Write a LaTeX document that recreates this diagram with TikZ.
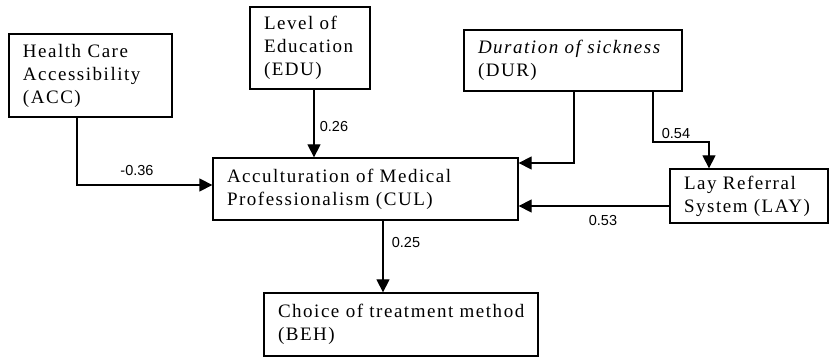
\documentclass[tikz,border=0pt]{standalone}
\usepackage{fontspec}
\setmainfont{Liberation Serif}[LetterSpace=8]
\newfontfamily\labelfont{Liberation Sans}
\usetikzlibrary{arrows.meta}
\begin{document}
\begin{tikzpicture}[x=1pt,y=-1pt,
  varbox/.style={draw, line width=1.3pt, rectangle, inner xsep=14pt, inner ysep=0pt,
    align=left, font=\fontsize{19}{23}\selectfont},
  path/.style={line width=1.3pt, -{Triangle[length=13pt,width=13pt]}},
  coef/.style={font=\labelfont\fontsize{14.5}{16}\selectfont, inner sep=0pt}]
\useasboundingbox (0,0) rectangle (831,358);

% variable boxes
\node[varbox, minimum width=163pt, minimum height=83pt, text width=135pt] (acc) at (90.5,75.5)
  {\mbox{Health Care}\\\mbox{Accessibility}\\(ACC)};
\node[varbox, minimum width=120pt, minimum height=82pt, text width=92pt] (edu) at (310,48)
  {\mbox{Level of}\\\mbox{Education}\\(EDU)};
\node[varbox, minimum width=218pt, minimum height=61pt, text width=190pt] (dur) at (573,60.5)
  {\mbox{\itshape Duration of sickness}\\(DUR)};
\node[varbox, minimum width=305pt, minimum height=62pt, text width=277pt] (cul) at (365.5,189)
  {\mbox{Acculturation of Medical}\\\mbox{Professionalism (CUL)}};
\node[varbox, minimum width=158pt, minimum height=54pt, text width=130pt] (lay) at (749,196)
  {\mbox{Lay Referral}\\\mbox{System (LAY)}};
\node[varbox, minimum width=274pt, minimum height=63pt, text width=246pt] (beh) at (401,324.5)
  {\mbox{Choice of treatment method}\\(BEH)};

% paths with coefficients
\draw[path] (acc.south -| 77,0) |- (cul.west |- 0,185);
\draw[path] (edu.south -| 314,0) -- (cul.north -| 314,0);
\draw[path] (dur.south -| 574,0) |- (cul.east |- 0,163);
\draw[path] (dur.south -| 653,0) |- (709,142) -- (lay.north -| 709,0);
\draw[path] (lay.west |- 0,206) -- (cul.east |- 0,206);
\draw[path] (cul.south -| 383,0) -- (beh.north -| 383,0);

\node[coef] (c1) at (137,171) {-0.36};
\node[coef] (c2) at (334,127) {0.26};
\node[coef] (c3) at (676,134) {0.54};
\node[coef] (c4) at (603,221) {0.53};
\node[coef] (c5) at (406,243) {0.25};
\end{tikzpicture}
\end{document}
